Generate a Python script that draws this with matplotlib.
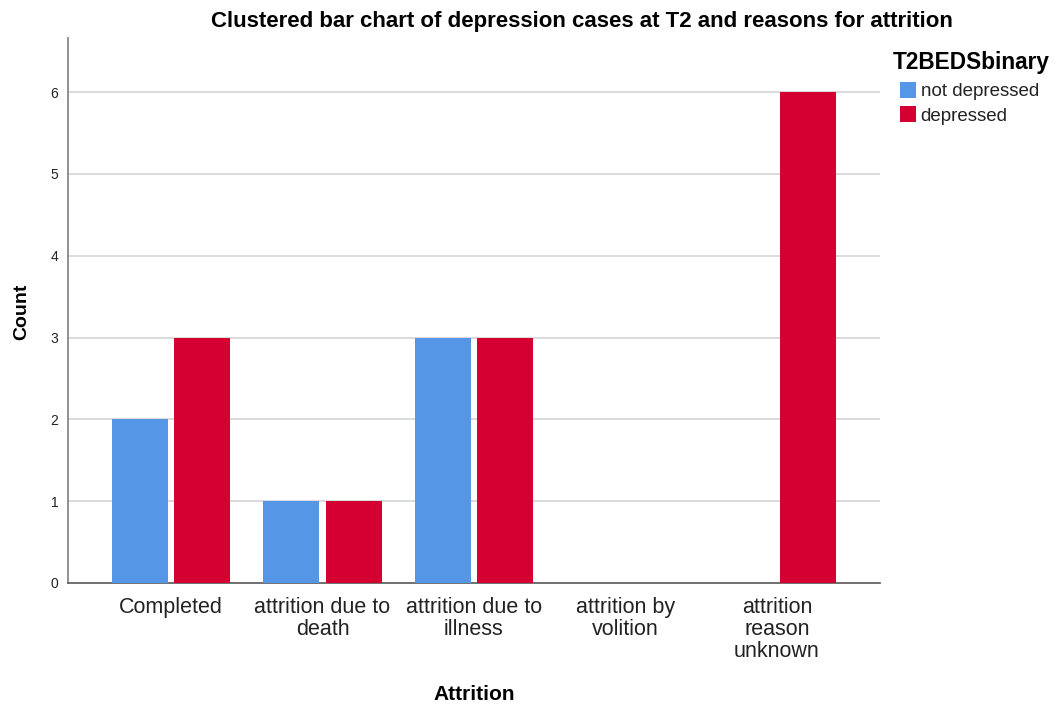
import matplotlib
matplotlib.use("Agg")
import matplotlib.pyplot as plt
import numpy as np
from matplotlib.patches import Patch

categories = ["Completed", "attrition due to\ndeath", "attrition due to\nillness",
              "attrition by\nvolition", "attrition\nreason\nunknown"]
not_depressed = [2, 1, 3, 0, 0]
depressed = [3, 1, 3, 0, 6]
series_names = ["not depressed", "depressed"]
y_ticks = [0, 1, 2, 3, 4, 5, 6]

blue = "#5596E6"
red = "#D50032"

plt.rcParams["font.family"] = ["Liberation Sans", "DejaVu Sans"]

fig = plt.figure(figsize=(10.56, 7.09), dpi=100)
ax = fig.add_axes([68 / 1056, 1 - 583 / 709, (880 - 68) / 1056, (583 - 38) / 709])

x = np.arange(len(categories))
w = 0.37
off = 0.205
ax.bar(x - off, not_depressed, width=w, color=blue, zorder=3)
ax.bar(x + off, depressed, width=w, color=red, zorder=3)

ax.set_xlim(-0.68, 4.68)
ax.set_ylim(0, 6.66)
ax.set_yticks(y_ticks)
ax.set_yticklabels([str(t) for t in y_ticks], fontsize=10, color="#222222")
ax.set_xticks(x)
ax.set_xticklabels(categories, fontsize=15.5, color="#222222", linespacing=1.08)
ax.tick_params(axis="both", length=0)
ax.tick_params(axis="y", pad=7)
ax.tick_params(axis="x", pad=10)

ax.yaxis.grid(True, color="#D4D4D4", linewidth=1.2, zorder=0)
ax.set_axisbelow(True)
for s in ["top", "right"]:
    ax.spines[s].set_visible(False)
ax.spines["left"].set_color("#888888")
ax.spines["bottom"].set_color("#666666")
ax.spines["left"].set_linewidth(1.3)
ax.spines["bottom"].set_linewidth(1.3)

fig.text(582 / 1056, 1 - 21 / 709,
         "Clustered bar chart of depression cases at T2 and reasons for attrition",
         ha="center", va="center", fontsize=16, fontweight="bold")
fig.text(22 / 1056, 1 - 312 / 709, "Count", rotation=90, ha="center", va="center",
         fontsize=14, fontweight="bold")
fig.text(474 / 1056, 1 - 695 / 709, "Attrition", ha="center", va="center",
         fontsize=15, fontweight="bold")

# legend
fig.text(893 / 1056, 1 - 62 / 709, "T2BEDSbinary", ha="left", va="center",
         fontsize=16.3, fontweight="bold")
handles = [Patch(facecolor=blue, edgecolor="none"), Patch(facecolor=red, edgecolor="none")]
leg = fig.legend(handles, series_names, loc="upper left",
                 bbox_to_anchor=(900 / 1056, 1 - 82 / 709), frameon=False,
                 fontsize=13.5, handlelength=0.85, handleheight=0.9,
                 handletextpad=0.25, labelspacing=0.33, borderaxespad=0, borderpad=0)
for t in leg.get_texts():
    t.set_color("#222222")

fig.savefig("out.png", dpi=100)
